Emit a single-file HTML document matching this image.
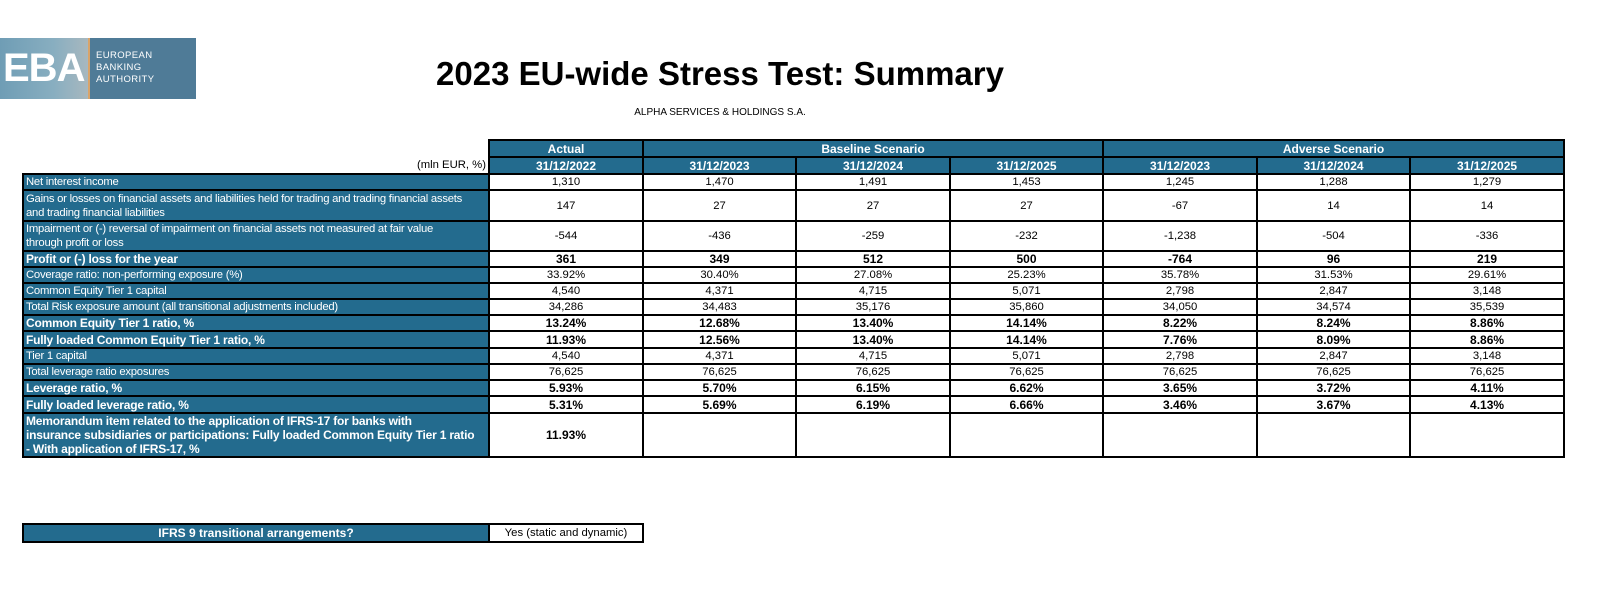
<!DOCTYPE html>
<html><head><meta charset="utf-8"><style>
body{margin:0;width:1598px;height:590px;background:#fff;position:relative;overflow:hidden;font-family:"Liberation Sans",Tahoma,sans-serif;}
.logo{position:absolute;left:0;top:38px;width:196px;height:61px;background:#4f7b97;}
.logo .l{position:absolute;left:0;top:0;width:89px;height:61px;background:linear-gradient(90deg,#6f9db5,#88aec0 60%,#a8b8bf);}
.logo .or{position:absolute;left:88px;top:0;width:2px;height:61px;background:#d9a46a;}
.logo .eba{position:absolute;left:3px;top:8px;font:bold 40px "Liberation Sans",sans-serif;color:#fff;letter-spacing:-1px;}
.logo .t{position:absolute;left:96px;top:12px;font:9.5px/12px "Liberation Sans",sans-serif;color:#fff;letter-spacing:.4px;}
.title{position:absolute;left:0;width:1440px;text-align:center;top:55px;font:bold 33px "Liberation Sans",sans-serif;color:#000;}
.sub{position:absolute;left:0;width:1440px;text-align:center;top:107px;font:10px "Liberation Sans",sans-serif;}
table{position:absolute;border-collapse:collapse;table-layout:fixed;}
td{border:2px solid #000;padding:0 2px;font-size:11.3px;line-height:12px;overflow:hidden;text-align:center;color:#000;}
td.h{background:#236b8e;color:#fff;font-weight:bold;font-size:12px;}
td.lab{background:#236b8e;color:#fff;text-align:left;font-size:11.3px;line-height:14px;letter-spacing:-0.25px;white-space:nowrap;}
td.n{border:none;}
tr.b td{font-weight:bold;font-size:12px;}
tr.b td.lab{letter-spacing:-0.2px;}
</style></head><body>
<div class="logo"><div class="l"></div><div class="or"></div><div class="eba">EBA</div><div class="t">EUROPEAN<br>BANKING<br>AUTHORITY</div></div>
<div class="title">2023 EU-wide Stress Test: Summary</div>
<div class="sub">ALPHA SERVICES &amp; HOLDINGS S.A.</div>
<table style="left:22px;top:139px;width:1541px">
<colgroup><col style="width:466px"><col style="width:154px"><col style="width:153px"><col style="width:154px"><col style="width:153px"><col style="width:154px"><col style="width:153px"><col style="width:154px"></colgroup>
<tr style="height:17px"><td class="n"></td><td class="h">Actual</td><td class="h" colspan="3">Baseline Scenario</td><td class="h" colspan="3">Adverse Scenario</td></tr>
<tr style="height:17px"><td class="n" style="text-align:right;font-size:11.3px">(mln EUR, %)</td><td class="h">31/12/2022</td><td class="h">31/12/2023</td><td class="h">31/12/2024</td><td class="h">31/12/2025</td><td class="h">31/12/2023</td><td class="h">31/12/2024</td><td class="h">31/12/2025</td></tr>
<tr style="height:16px"><td class="lab">Net interest income</td><td>1,310</td><td>1,470</td><td>1,491</td><td>1,453</td><td>1,245</td><td>1,288</td><td>1,279</td></tr>
<tr style="height:31px"><td class="lab">Gains or losses on financial assets and liabilities held for trading and trading financial assets<br>and trading financial liabilities</td><td>147</td><td>27</td><td>27</td><td>27</td><td>-67</td><td>14</td><td>14</td></tr>
<tr style="height:30px"><td class="lab">Impairment or (-) reversal of impairment on financial assets not measured at fair value<br>through profit or loss</td><td>-544</td><td>-436</td><td>-259</td><td>-232</td><td>-1,238</td><td>-504</td><td>-336</td></tr>
<tr class="b" style="height:16px"><td class="lab">Profit or (-) loss for the year</td><td>361</td><td>349</td><td>512</td><td>500</td><td>-764</td><td>96</td><td>219</td></tr>
<tr style="height:16px"><td class="lab">Coverage ratio: non-performing exposure (%)</td><td>33.92%</td><td>30.40%</td><td>27.08%</td><td>25.23%</td><td>35.78%</td><td>31.53%</td><td>29.61%</td></tr>
<tr style="height:16px"><td class="lab">Common Equity Tier 1 capital</td><td>4,540</td><td>4,371</td><td>4,715</td><td>5,071</td><td>2,798</td><td>2,847</td><td>3,148</td></tr>
<tr style="height:16px"><td class="lab">Total Risk exposure amount (all transitional adjustments included)</td><td>34,286</td><td>34,483</td><td>35,176</td><td>35,860</td><td>34,050</td><td>34,574</td><td>35,539</td></tr>
<tr class="b" style="height:16px"><td class="lab">Common Equity Tier 1 ratio, %</td><td>13.24%</td><td>12.68%</td><td>13.40%</td><td>14.14%</td><td>8.22%</td><td>8.24%</td><td>8.86%</td></tr>
<tr class="b" style="height:17px"><td class="lab">Fully loaded Common Equity Tier 1 ratio, %</td><td>11.93%</td><td>12.56%</td><td>13.40%</td><td>14.14%</td><td>7.76%</td><td>8.09%</td><td>8.86%</td></tr>
<tr style="height:16px"><td class="lab">Tier 1 capital</td><td>4,540</td><td>4,371</td><td>4,715</td><td>5,071</td><td>2,798</td><td>2,847</td><td>3,148</td></tr>
<tr style="height:16px"><td class="lab">Total leverage ratio exposures</td><td>76,625</td><td>76,625</td><td>76,625</td><td>76,625</td><td>76,625</td><td>76,625</td><td>76,625</td></tr>
<tr class="b" style="height:16px"><td class="lab">Leverage ratio, %</td><td>5.93%</td><td>5.70%</td><td>6.15%</td><td>6.62%</td><td>3.65%</td><td>3.72%</td><td>4.11%</td></tr>
<tr class="b" style="height:17px"><td class="lab">Fully loaded leverage ratio, %</td><td>5.31%</td><td>5.69%</td><td>6.19%</td><td>6.66%</td><td>3.46%</td><td>3.67%</td><td>4.13%</td></tr>
<tr class="b" style="height:44px"><td class="lab" style="vertical-align:top;height:42px;line-height:14px;padding-right:8px">Memorandum item related to the application of IFRS-17 for banks with<br>insurance subsidiaries or participations: Fully loaded Common Equity Tier 1 ratio<br>- With application of IFRS-17, %</td><td>11.93%</td><td></td><td></td><td></td><td></td><td></td><td></td></tr>
</table>
<table style="left:22px;top:523px;width:620px">
<colgroup><col style="width:466px"><col style="width:154px"></colgroup>
<tr style="height:18px"><td class="h">IFRS 9 transitional arrangements?</td><td>Yes (static and dynamic)</td></tr>
</table>
</body></html>
